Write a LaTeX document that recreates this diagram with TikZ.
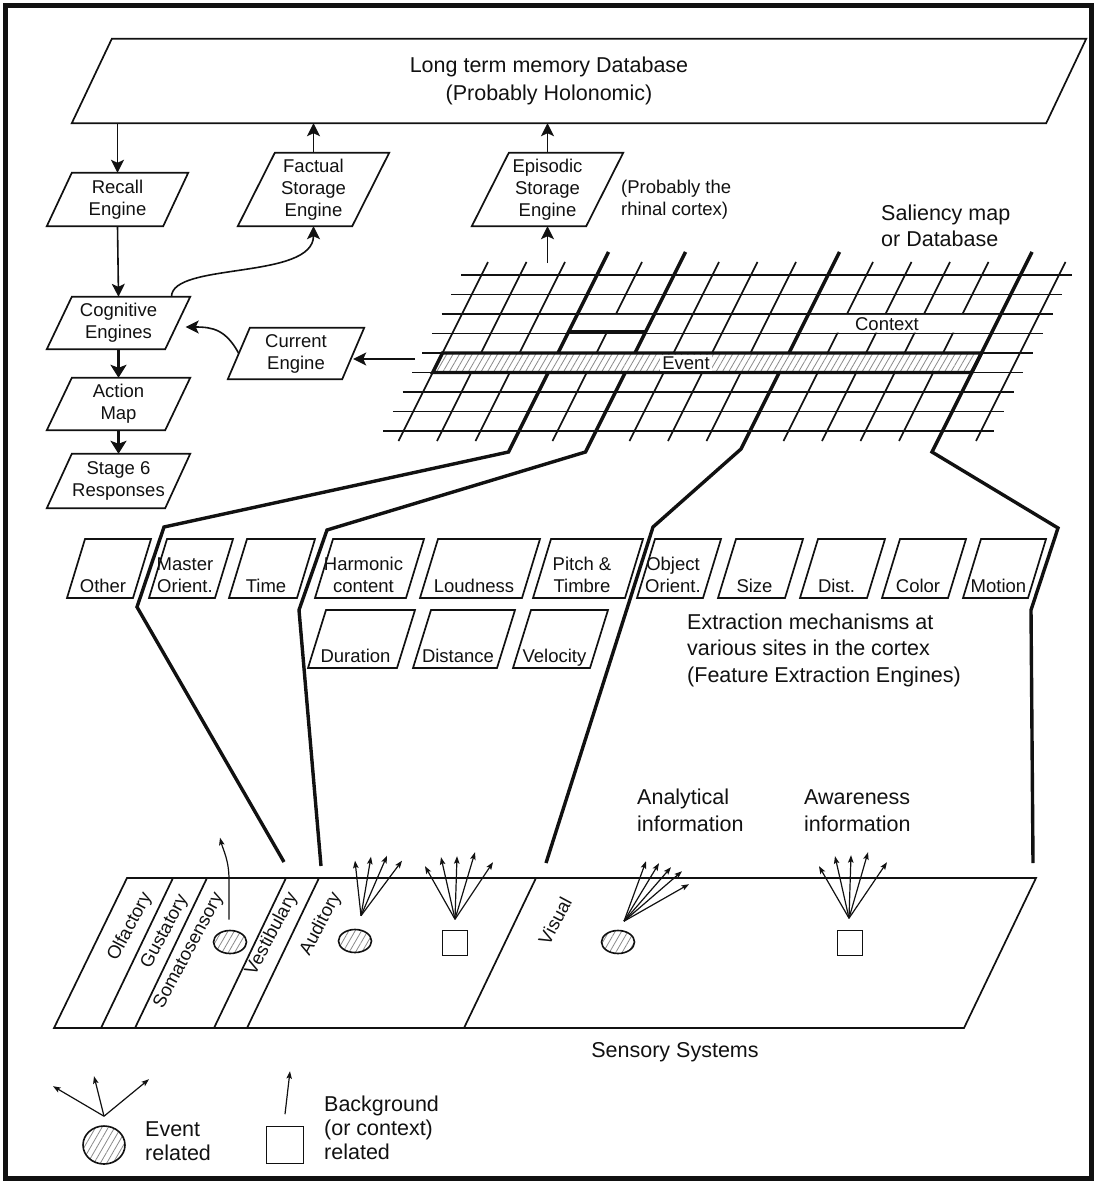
\documentclass[tikz,border=0pt]{standalone}
\usepackage{fontspec}
\setmainfont{Liberation Sans}
\usetikzlibrary{arrows.meta,calc,shapes.geometric,patterns.meta}
\definecolor{Ink}{HTML}{111111}
\definecolor{Hatch}{HTML}{8A8A8A}
\pgfmathdeclarefunction{gx}{2}{\pgfmathparse{488+38.5*#1-0.5*(#2-262)}}
\tikzset{
 boxline/.style={draw=Ink, line width=1.7pt},
 gridline/.style={draw=Ink, line width=1.6pt},
 bundle/.style={draw=Ink, line width=3.4pt},
 engine/.style={inner sep=0pt, align=center, text=Ink, font=\fontsize{18.5}{22}\selectfont},
 lab/.style={inner sep=0pt, align=center, text=Ink, font=\fontsize{18.5}{22}\selectfont},
 note/.style={inner sep=0pt, align=left, text=Ink, font=\fontsize{21.5}{26.5}\selectfont},
 hatched/.style={pattern={Lines[angle=60,distance=5.5pt,line width=0.8pt]}, pattern color=Hatch},
 evtmark/.style={ellipse, draw=Ink, line width=1.6pt, inner sep=0pt, minimum width=33pt, minimum height=23pt, hatched},
 ctxmark/.style={rectangle, draw=Ink, line width=1.6pt, inner sep=0pt, minimum size=25pt},
 arrow/.style={draw=Ink, line width=1.6pt, -{Stealth[length=13pt,width=13pt,inset=3pt]}},
 boldarrow/.style={draw=Ink, line width=2.8pt, -{Stealth[length=13pt,width=16pt,inset=3pt]}},
 fanarrow/.style={draw=Ink, line width=1.2pt, -{Stealth[length=7.5pt,width=5.5pt,inset=1.5pt]}}
}

\begin{document}
\begin{tikzpicture}[x=1pt,y=-1pt]
\useasboundingbox (0,0) rectangle (1096,1183);
\draw[draw=Ink, line width=5pt] (5,5) rectangle (1091,1178);

% engines
\node[engine, minimum width=974pt, minimum height=84pt] (ltm) at (579,81) {};
\node[note, align=center, font=\fontsize{21.5}{28}\selectfont] (ltmtext) at (549,81) {Long term memory Database\\(Probably Holonomic)};
\node[engine, minimum width=116pt, minimum height=53pt] (recall) at (117.5,199.5) {Recall\\Engine};
\node[engine, minimum width=114pt, minimum height=73pt] (factual) at (313.5,189.5) {Factual\\Storage\\Engine};
\node[engine, minimum width=114pt, minimum height=73pt] (episodic) at (547.5,189.5) {Episodic\\Storage\\Engine};
\node[engine, minimum width=118pt, minimum height=52pt] (cog) at (118.5,323) {Cognitive\\Engines};
\node[engine, minimum width=118pt, minimum height=52pt] (action) at (118.5,404) {Action\\Map};
\node[engine, minimum width=118pt, minimum height=54pt] (stage) at (118.5,481) {Stage 6\\Responses};
\node[engine, minimum width=114pt, minimum height=51pt] (current) at (296,353.5) {Current\\Engine};
\foreach \nm/\s in {ltm/40,recall/25,factual/37,episodic/37,cog/25,action/25,stage/25,current/22}
  \draw[boxline] ($(\nm.south west)+(-\s/2,0)$) -- ($(\nm.south east)+(-\s/2,0)$)
    -- ($(\nm.north east)+(\s/2,0)$) -- ($(\nm.north west)+(\s/2,0)$) -- cycle;

\node[lab, anchor=west, align=left] (rhinal) at (621,200) {(Probably the\\rhinal cortex)};
\node[note, anchor=west] (saliency) at (881,226) {Saliency map\\or Database};

\draw[arrow] (recall.north |- ltm.south) -- (recall.north);
\draw[arrow] (factual.north) -- (factual.north |- ltm.south);
\draw[arrow] (episodic.north) -- (episodic.north |- ltm.south);
\draw[arrow] (recall.south) -- (cog.north);
\draw[boldarrow] (cog.south) -- (action.north);
\draw[boldarrow] (action.south) -- (stage.north);
\draw[arrow] ($(cog.north)+(53,0)$) .. controls +(0,-35) and +(0,54) .. (factual.south);
\draw[arrow] (current.west) .. controls +(-13,-24) and +(27,0) .. ($(cog.east)+(8,4)$);
\coordinate (evtail) at (415,359);
\draw[arrow] (evtail) -- (evtail -| current.east);
\coordinate (saltop) at (547.5,263);
\draw[arrow] (saltop) -- (episodic.south);

% saliency map
\foreach \i in {0,...,8}
  \draw[gridline] ({461-9.75*\i},{275+19.5*\i}) -- ({1072-9.75*\i},{275+19.5*\i});
\foreach \k in {0,...,15}
  \draw[gridline] ({gx(\k,262)},262) -- ({gx(\k,441)},441);
\fill[white] ({gx(3,314.9)},314.9) -- ({gx(5,314.9)},314.9) -- ({gx(5,332.6)},332.6) -- ({gx(3,332.6)},332.6) -- cycle;
\fill[white] ({gx(9,314.9)},314.9) -- ({gx(14,314.9)},314.9) -- ({gx(14,332.6)},332.6) -- ({gx(9,332.6)},332.6) -- cycle;
\coordinate (ev1) at ({gx(0,353)},353);
\coordinate (ev2) at ({gx(14,353)},353);
\coordinate (ev3) at ({gx(14,372.5)},372.5);
\coordinate (ev4) at ({gx(0,372.5)},372.5);
\fill[white] (ev1) -- (ev2) -- (ev3) -- (ev4) -- cycle;
\path[hatched] (ev1) -- (ev2) -- (ev3) -- (ev4) -- cycle;
\draw[bundle] (ev1) -- (ev2) -- (ev3) -- (ev4) -- cycle;
\draw[draw=Ink, line width=2.8pt] ({gx(3,331.8)},331.8) -- ({gx(5,331.8)},331.8);
\node[lab, fill=white, inner sep=2pt] (event) at (686,363) {Event};
\node[lab] (context) at (887,324) {Context};

\draw[bundle] ({gx(3,252)},252) -- ({gx(3,353)},353);
\draw[bundle] ({gx(3,372.5)},372.5) -- ({gx(3,452)},452) -- (164,527) -- (137,607) -- (284,862);
\draw[bundle] ({gx(5,252)},252) -- ({gx(5,353)},353);
\draw[bundle] ({gx(5,372.5)},372.5) -- ({gx(5,452)},452) -- (327,530) -- (299,610) -- (321,866);
\draw[bundle] ({gx(9,252)},252) -- ({gx(9,353)},353);
\draw[bundle] ({gx(9,372.5)},372.5) -- ({gx(9,449)},449) -- (653,527) -- (546,863);
\draw[bundle] ({gx(14,252)},252) -- ({gx(14,452)},452) -- (1058,528) -- (1031,610) -- (1033,863);

% feature extraction engines
\foreach \nm/\txt/\bx/\bw/\by/\bh in {
 other/Other/67/66/598/59, master/Master\\Orient./149/66/598/59, time/Time/229/68/598/59,
 harmonic/Harmonic\\content/315/91/598/59, loudness/Loudness/420/102/598/59,
 pitch/Pitch \&\\Timbre/533/92/598/59, object/Object\\Orient./637/66/598/59,
 size/Size/718/67/598/59, dist/Dist./800/67/598/59, color/Color/882/66/598/59,
 motion/Motion/963/65/598/59,
 duration/Duration/308/89/668/58, distance/Distance/413/84/668/58, velocity/Velocity/513/77/668/58}{
  \draw[boxline] (\bx,\by) -- ++(\bw,0) -- ++(18,-\bh) -- ++(-\bw,0) -- cycle;
  \node[lab, anchor=south, text depth=0pt] (\nm) at (\bx+\bw/2+3,\by-5) {\txt};
}
\node[note, anchor=west] (extract) at (687,650) {Extraction mechanisms at\\various sites in the cortex\\(Feature Extraction Engines)};

% sensory systems
\draw[boxline] (127,878) -- (1036,878) -- (964,1028) -- (54,1028) -- cycle;
\foreach \t/\b in {173/101,207/135,286/214,319/247,536/464}
  \draw[boxline] (\t,878) -- (\b,1028);
\foreach \nm/\txt/\cx/\cy in {olf/Olfactory/130/927,gus/Gustatory/165/932,som/Somatosensory/189/951,ves/Vestibulary/272/934,aud/Auditory/321/924,vis/Visual/555/921}
  \node[lab, rotate=62] (\nm) at (\cx,\cy) {\txt};
\node[evtmark] (somev) at (230,942) {};
\node[evtmark] (audev) at (355,941) {};
\node[ctxmark] (audctx) at (455,943) {};
\node[evtmark] (visev) at (618,942) {};
\node[ctxmark] (visctx) at (850,943) {};

\coordinate (somfan) at ($(somev.north)+(-1,-10)$);
\draw[fanarrow] (somfan) -- ++(0,-40) .. controls +(0,-20) and +(3,12) .. +(-9,-42);
\coordinate (audfan) at ($(audev.north)+(6,-13)$);
\foreach \dx/\dy in {-6/-55,10/-59,26/-60,41/-55}
  \draw[fanarrow] (audfan) -- ++(\dx,\dy);
\coordinate (audctxfan) at ($(audctx.north)+(0,-10.5)$);
\foreach \dx/\dy in {-30/-53,-14/-62,2/-63,20/-67,38/-57}
  \draw[fanarrow] (audctxfan) -- ++(\dx,\dy);
\coordinate (visfan) at ($(visev.north)+(6,-8.5)$);
\foreach \dx/\dy in {22/-60,35/-58,47/-54,58/-50,65/-37}
  \draw[fanarrow] (visfan) -- ++(\dx,\dy);
\coordinate (visctxfan) at ($(visctx.north)+(-1,-11.5)$);
\foreach \dx/\dy in {-30/-52,-14/-62,2/-63,19/-66,38/-56}
  \draw[fanarrow] (visctxfan) -- ++(\dx,\dy);

\node[note, anchor=west] (analytic) at (637,810.5) {Analytical\\information};
\node[note, anchor=west] (aware) at (804,810.5) {Awareness\\information};
\node[note, align=center] (sensory) at (675,1052) {Sensory Systems};

% legend
\node[evtmark, minimum width=42pt, minimum height=38pt] (legev) at (104,1145) {};
\coordinate (legevfan) at ($(legev.north)+(0,-9)$);
\foreach \dx/\dy in {-51/-30,-10/-40,45/-37}
  \draw[fanarrow] (legevfan) -- ++(\dx,\dy);
\node[note, anchor=west, font=\fontsize{21.5}{24}\selectfont] (legevtext) at (145,1141) {Event\\related};
\node[ctxmark, minimum size=37pt] (legctx) at (285,1145) {};
\coordinate (legctxfan) at ($(legctx.north)+(0,-11.5)$);
\draw[fanarrow] (legctxfan) -- ++(5,-43);
\node[note, anchor=west, font=\fontsize{21.5}{24}\selectfont] (legctxtext) at (324,1128) {Background\\(or context)\\related};
\end{tikzpicture}
\end{document}
